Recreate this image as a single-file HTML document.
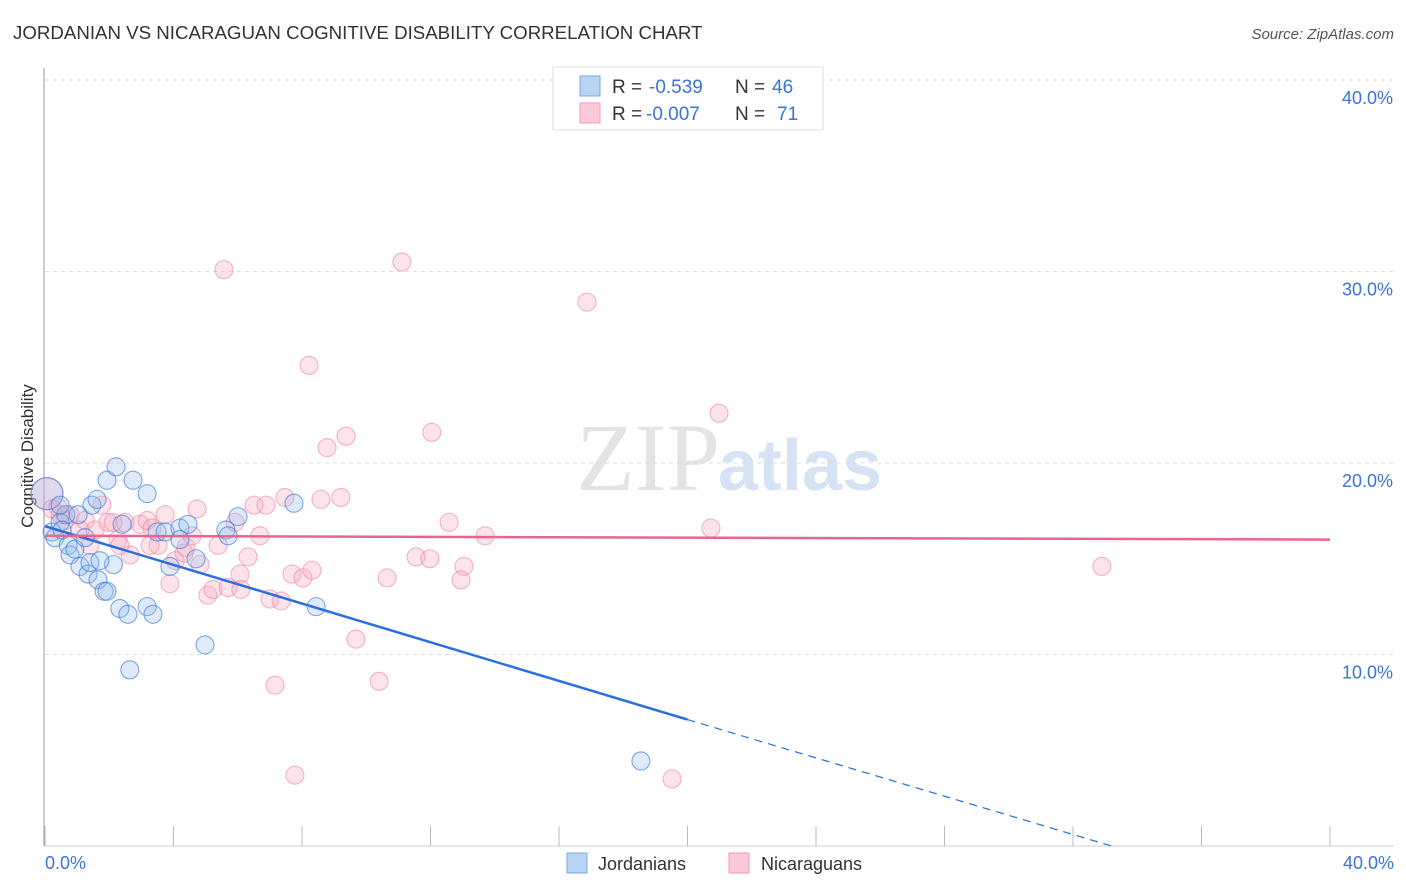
<!DOCTYPE html>
<html><head><meta charset="utf-8"><style>
body{margin:0;background:#fff;font-family:"Liberation Sans",sans-serif;}
svg{display:block}
</style></head><body>
<svg id="chart" width="1406" height="892" xmlns="http://www.w3.org/2000/svg" font-family="Liberation Sans, sans-serif">
<text x="13" y="39" font-size="18.7" fill="#333">JORDANIAN VS NICARAGUAN COGNITIVE DISABILITY CORRELATION CHART</text>
<text x="1394" y="39" font-size="15" fill="#555" text-anchor="end" font-style="italic">Source: ZipAtlas.com</text>
<text x="720" y="490" font-size="96" fill="#e4e4e4" text-anchor="end" font-family="Liberation Serif, serif">ZIP</text>
<text x="718" y="490" font-size="72" fill="#d6e3f4" font-weight="bold">atlas</text>
<g id="grid"></g>
<line x1="44" y1="68" x2="44" y2="846" stroke="#999"/>
<line x1="44" y1="846" x2="1394" y2="846" stroke="#ccc"/>
<g id="ticks"></g>
<text x="33" y="456" font-size="17" fill="#333" text-anchor="middle" transform="rotate(-90 33 456)">Cognitive Disability</text>
<text x="45" y="869" font-size="18" fill="#3b73d6">0.0%</text>
<text x="1394" y="869" font-size="18" fill="#3b73d6" text-anchor="end">40.0%</text>
<g id="pts"></g>
<g id="lines"></g>
<g>
<rect x="553" y="67" width="270" height="63" fill="#fff" stroke="#ddd"/>
<rect x="580" y="76" width="20" height="20" fill="#b8d4f5" stroke="#7aa7e6"/>
<rect x="580" y="103" width="20" height="20" fill="#fbc9d8" stroke="#f09ab5"/>
<text y="93" font-size="19" fill="#333"><tspan x="612">R = </tspan><tspan x="649" fill="#3b73d6">-0.539</tspan><tspan x="735">N = </tspan><tspan x="772" fill="#3b73d6">46</tspan></text>
<text y="120" font-size="19" fill="#333"><tspan x="612">R = </tspan><tspan x="646" fill="#3b73d6">-0.007</tspan><tspan x="735">N = </tspan><tspan x="777" fill="#3b73d6">71</tspan></text>
</g>
<g>
<rect x="567" y="853" width="20" height="20" fill="#b8d4f5" stroke="#7aa7e6"/>
<text x="598" y="870" font-size="18" fill="#333">Jordanians</text>
<rect x="729" y="853" width="20" height="20" fill="#fbc9d8" stroke="#f09ab5"/>
<text x="761" y="870" font-size="18" fill="#333">Nicaraguans</text>
</g>
</svg>
<script>
const yTicks=[10,20,30,40];
const yTickLabels=["10.0%","20.0%","30.0%","40.0%"];
const xTicks=[0,4,8,12,16,20,24,28,32,36,40];
const blueX=[0.06,0.22,0.31,0.47,0.65,0.72,0.78,0.93,1.09,1.25,1.34,1.4,1.46,1.62,1.65,1.84,1.93,1.93,2.13,2.21,2.33,2.58,2.64,2.74,3.18,3.18,3.36,3.49,3.74,3.89,4.2,4.45,4.7,4.98,5.63,5.7,6.01,7.75,8.44,18.55,0.47,1.03,1.71,2.4,4.2,0.53];
const blueY=[18.4,16.4,16.1,16.9,17.3,15.7,15.2,15.5,14.6,16.1,14.2,14.8,17.8,18.1,13.9,13.3,19.1,13.3,14.7,19.8,12.4,12.1,9.2,19.1,18.4,12.5,12.1,16.4,16.4,14.6,16.6,16.8,15.0,10.5,16.5,16.2,17.2,17.9,12.5,4.44,17.8,17.3,14.9,16.8,16.0,16.5];
const pinkX=[0.06,0.22,0.4,0.62,0.78,1.09,1.25,1.56,1.77,1.96,2.12,2.27,2.49,2.65,2.96,3.18,3.33,3.52,3.74,3.89,4.05,4.33,4.39,4.58,4.73,4.83,5.07,5.23,5.39,5.57,5.7,5.92,6.07,6.1,6.32,6.51,6.69,6.88,7.0,7.16,7.35,7.47,7.69,7.78,8.03,8.22,8.31,8.59,8.78,9.21,9.37,9.68,10.4,10.65,11.11,11.55,11.98,12.04,12.58,12.95,13.04,13.7,16.87,19.52,20.73,20.98,32.9,0.47,1.4,2.33,3.27];
const pinkY=[18.4,17.6,17.7,17.0,17.3,16.5,17.0,16.5,17.8,16.9,16.9,16.0,16.9,15.2,16.8,17.0,16.6,15.7,17.3,13.7,14.9,15.3,15.6,16.2,17.6,14.7,13.1,13.4,15.7,30.1,13.5,16.9,14.2,13.4,15.1,17.8,16.2,17.8,12.9,8.4,12.8,18.2,14.2,3.7,14.0,25.1,14.4,18.1,20.8,18.2,21.4,10.8,8.6,14.0,30.5,15.1,15.0,21.6,16.9,13.9,14.6,16.2,28.4,3.5,16.6,22.6,14.6,17.3,15.7,15.7,15.7];
const blueLine=[[0,16.7],[20,6.6],[33.2,0]];
const pinkLine=[[0,16.2],[40,16.0]];
const NS="http://www.w3.org/2000/svg";
const X0=45,X1=1330,Y0=846,PY=19.15;
function sx(v){return X0+(X1-X0)*v/40;}
function sy(v){return Y0-v*PY;}
function mk(tag,attrs,parent){const e=document.createElementNS(NS,tag);for(const k in attrs)e.setAttribute(k,attrs[k]);document.getElementById(parent).appendChild(e);return e;}
yTicks.forEach((t,i)=>{
 const l=mk('line',{x1:45,x2:1394,y1:sy(t),y2:sy(t),stroke:'#ddd','stroke-dasharray':'4,4'},'grid');
 
 
 const tx=mk('text',{x:1393,y:sy(t)+24,'font-size':18,fill:'#3b73d6','text-anchor':'end'},'grid');
 tx.textContent=yTickLabels[i];
 
 
});
xTicks.forEach(t=>{
 const l=mk('line',{x1:sx(t),x2:sx(t),y1:826,y2:846,stroke:'#bbb'},'ticks');
 
 
});
pinkX.forEach((x,i)=>{
 const c=mk('circle',{cx:sx(x),cy:sy(pinkY[i]),r:i==0?16:9,fill:'rgba(247,165,190,0.3)',stroke:'rgba(236,130,162,0.6)','stroke-width':1.1},'pts');
 
 
});
blueX.forEach((x,i)=>{
 const c=mk('circle',{cx:sx(x),cy:sy(blueY[i]),r:i==0?16:9,fill:'rgba(150,190,240,0.3)',stroke:'rgba(60,120,215,0.65)','stroke-width':1.1},'pts');
 
 
});
let b1=mk('line',{x1:sx(blueLine[0][0]),y1:sy(blueLine[0][1]),x2:sx(blueLine[1][0]),y2:sy(blueLine[1][1]),stroke:'#2a6fdb','stroke-width':2.5},'lines');


let b2=mk('line',{x1:sx(blueLine[1][0]),y1:sy(blueLine[1][1]),x2:sx(blueLine[2][0]),y2:sy(blueLine[2][1]),stroke:'#2a6fdb','stroke-width':1.2,'stroke-dasharray':'8,6'},'lines');


let p1=mk('line',{x1:sx(pinkLine[0][0]),y1:sy(pinkLine[0][1]),x2:sx(pinkLine[1][0]),y2:sy(pinkLine[1][1]),stroke:'#e8658f','stroke-width':2.5},'lines');


</script>
</body></html>
